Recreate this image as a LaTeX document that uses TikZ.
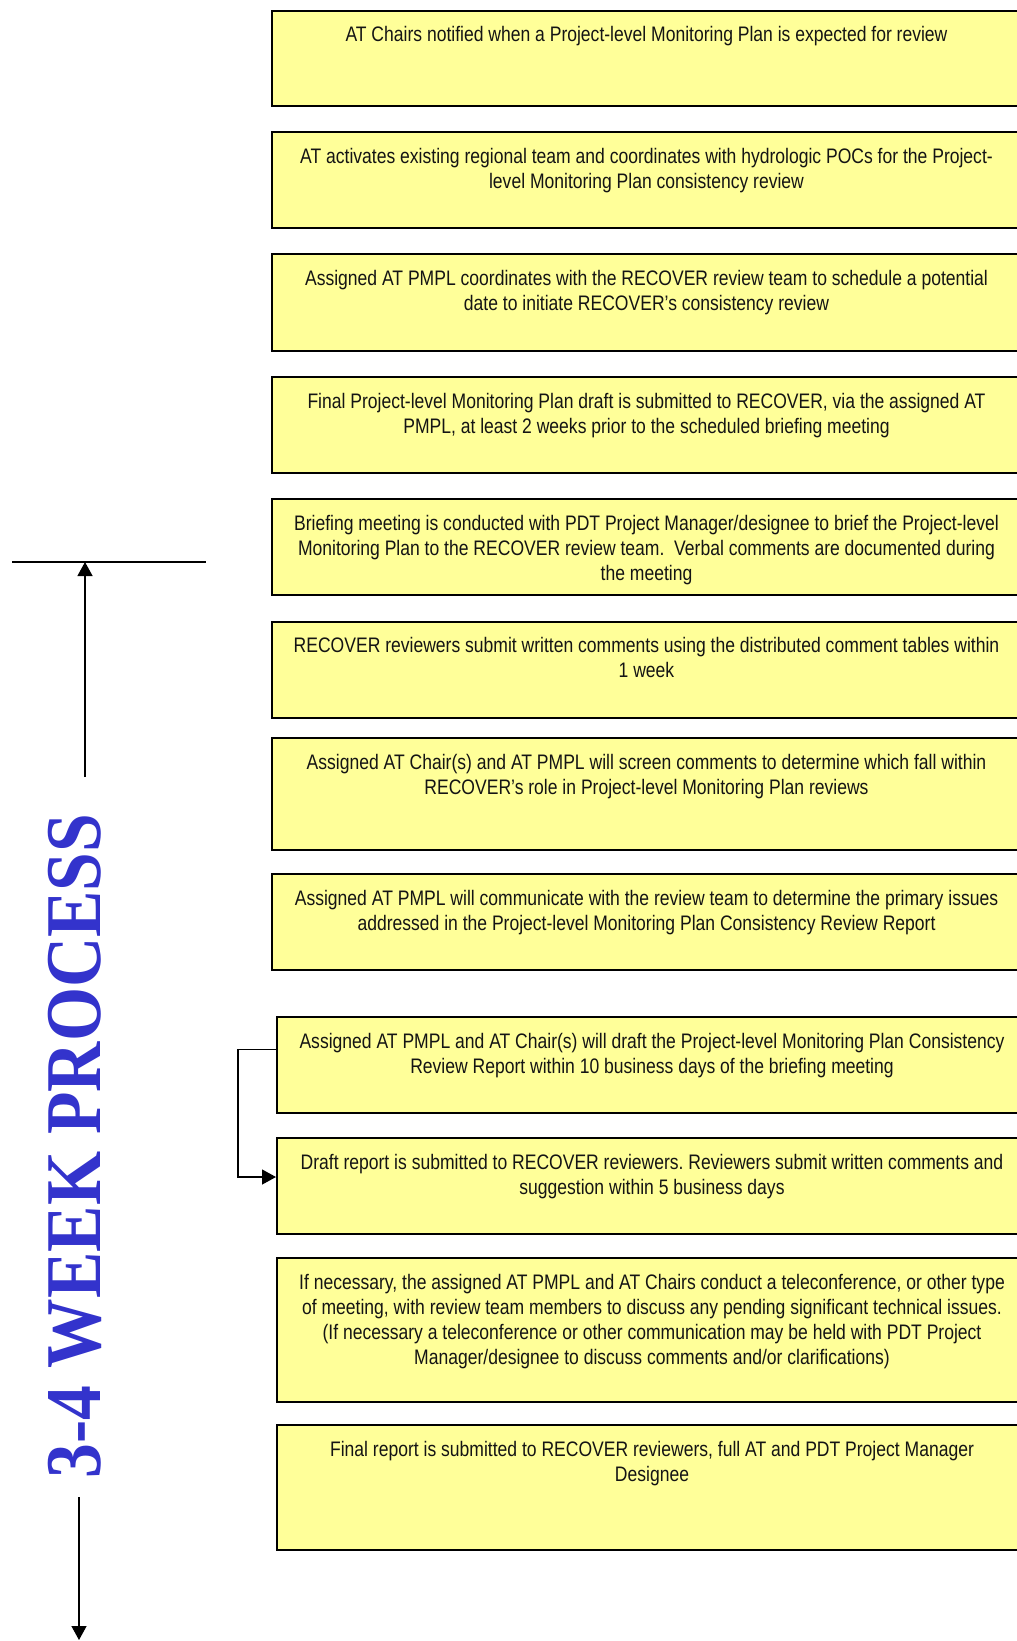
\documentclass[tikz,border=0pt]{standalone}
\usepackage{fontspec}
\setmainfont{Liberation Sans}
\newfontfamily\boxfont[FakeStretch=0.835]{Liberation Sans}
\newfontfamily\titlefont[FakeStretch=0.88]{Liberation Serif}
\usetikzlibrary{arrows.meta}
\definecolor{boxyellow}{RGB}{255,255,153}
\definecolor{titleblue}{RGB}{51,51,204}
\definecolor{txtcol}{RGB}{20,20,20}
\tikzset{
  stepbox/.style={draw=black, line width=2pt, fill=boxyellow, inner sep=0pt},
  stepA/.style={stepbox, minimum width=749pt},
  stepB/.style={stepbox, minimum width=750pt},
  txt/.style={anchor=north, inner sep=0pt, align=center, text=txtcol,
    font=\boxfont\fontsize{21}{25}\selectfont\frenchspacing},
  arr/.style={line width=1.3pt, -{Triangle[width=15pt,length=14pt]}},
  titlestyle/.style={text=titleblue, inner sep=0pt,
    font=\titlefont\bfseries\fontsize{79}{79}\selectfont}
}
\begin{document}
\begin{tikzpicture}[x=1pt,y=-1pt]
\useasboundingbox (0,0) rectangle (1017,1641);
\clip (0,0) rectangle (1017,1641);
\fill[white] (0,0) rectangle (1017,1641);

% boxes
\node[stepA, minimum height=95.2pt] (b1) at (646.5,58.1) {};
\node[stepA, minimum height=96.3pt] (b2) at (646.5,180) {};
\node[stepA, minimum height=96.2pt] (b3) at (646.5,302.4) {};
\node[stepA, minimum height=96.2pt] (b4) at (646.5,424.8) {};
\node[stepA, minimum height=96.3pt] (b5) at (646.5,547.3) {};
\node[stepA, minimum height=96.3pt] (b6) at (646.5,669.7) {};
\node[stepA, minimum height=112pt] (b7) at (646.5,793.6) {};
\node[stepA, minimum height=96.2pt] (b8) at (646.5,921.8) {};
\node[stepB, minimum height=96.3pt] (b9) at (652,1065.2) {};
\node[stepB, minimum height=95.2pt] (b10) at (652,1186) {};
\node[stepB, minimum height=144.4pt] (b11) at (652,1329.8) {};
\node[stepB, minimum height=124.6pt] (b12) at (652,1487.3) {};

% texts
\node[txt] (t1) at ([yshift=-17pt]b1.north) {AT Chairs notified when a Project-level Monitoring Plan is expected for review};
\node[txt] (t2) at ([yshift=-17pt]b2.north) {AT activates existing regional team and coordinates with hydrologic POCs for the Project-\\level Monitoring Plan consistency review};
\node[txt] (t3) at ([yshift=-17pt]b3.north) {Assigned AT PMPL coordinates with the RECOVER review team to schedule a potential\\date to initiate RECOVER’s consistency review};
\node[txt] (t4) at ([yshift=-17pt]b4.north) {Final Project-level Monitoring Plan draft is submitted to RECOVER, via the assigned AT\\PMPL, at least 2 weeks prior to the scheduled briefing meeting};
\node[txt] (t5) at ([yshift=-17pt]b5.north) {Briefing meeting is conducted with PDT Project Manager/designee to brief the Project-level\\Monitoring Plan to the RECOVER review team.\ \ Verbal comments are documented during\\the meeting};
\node[txt] (t6) at ([yshift=-17pt]b6.north) {RECOVER reviewers submit written comments using the distributed comment tables within\\1 week};
\node[txt] (t7) at ([yshift=-17pt]b7.north) {Assigned AT Chair(s) and AT PMPL will screen comments to determine which fall within\\RECOVER’s role in Project-level Monitoring Plan reviews};
\node[txt] (t8) at ([yshift=-17pt]b8.north) {Assigned AT PMPL will communicate with the review team to determine the primary issues\\addressed in the Project-level Monitoring Plan Consistency Review Report};
\node[txt] (t9) at ([yshift=-17pt]b9.north) {Assigned AT PMPL and AT Chair(s) will draft the Project-level Monitoring Plan Consistency\\Review Report within 10 business days of the briefing meeting};
\node[txt] (t10) at ([yshift=-17pt]b10.north) {Draft report is submitted to RECOVER reviewers. Reviewers submit written comments and\\suggestion within 5 business days};
\node[txt] (t11) at ([yshift=-17pt]b11.north) {If necessary, the assigned AT PMPL and AT Chairs conduct a teleconference, or other type\\of meeting, with review team members to discuss any pending significant technical issues.\\(If necessary a teleconference or other communication may be held with PDT Project\\Manager/designee to discuss comments and/or clarifications)};
\node[txt] (t12) at ([yshift=-17pt]b12.north) {Final report is submitted to RECOVER reviewers, full AT and PDT Project Manager\\Designee};

% bracket connector
\draw[arr] ([yshift=16pt]b9.west) -- ++(-38,0) |- ([yshift=9pt]b10.west);

% timeline
\node[titlestyle, rotate=90] (title) at (75,1146) {3-4 WEEK PROCESS};
\coordinate (barL) at (12,562);
\coordinate (barR) at (206,562);
\coordinate (topend) at (85,562);
\coordinate (topstart) at (85,777);
\coordinate (botstart) at (79,1497);
\coordinate (botend) at (79,1640);
\draw[line width=1.8pt] (barL) -- (barR);
\draw[arr] (topstart) -- (topend);
\draw[arr] (botstart) -- (botend);
\end{tikzpicture}
\end{document}
